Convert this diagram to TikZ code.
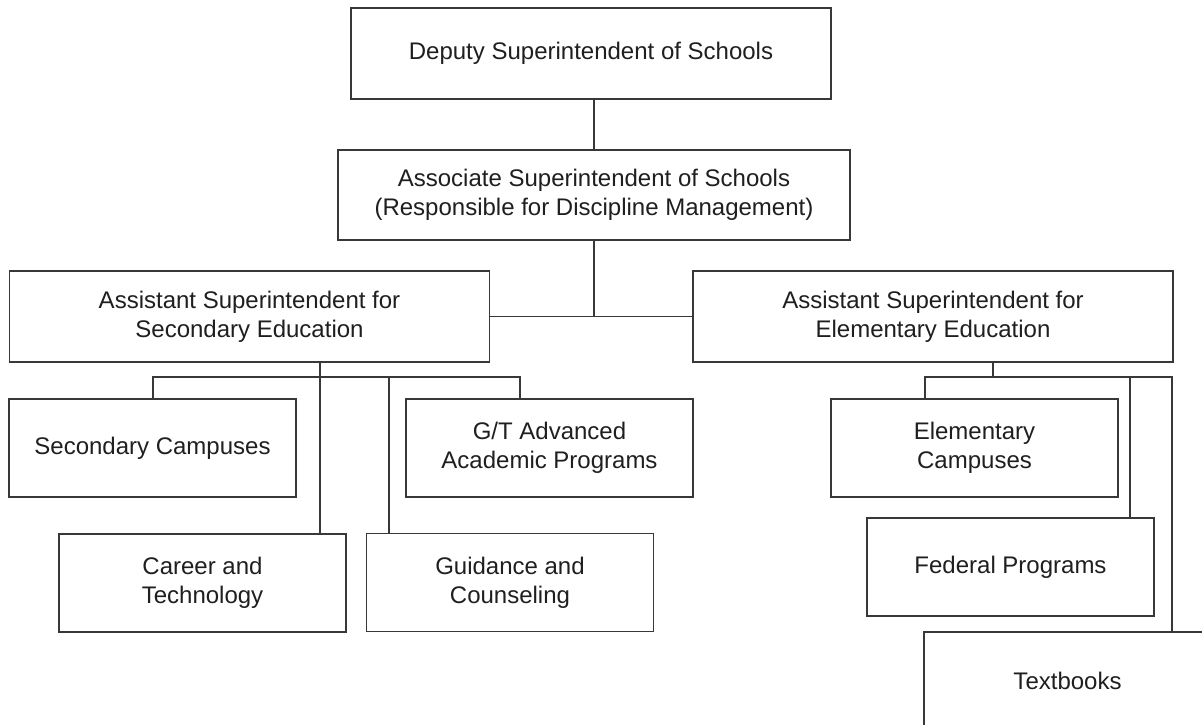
\documentclass[tikz,border=0pt]{standalone}
\usepackage{fontspec}
\setmainfont{Liberation Sans}
\begin{document}
\begin{tikzpicture}[x=1pt,y=-1pt,
  orgbox/.style={draw=black!78, line width=1.2pt, fill=white, rectangle,
    inner sep=0pt, align=center, text=black!88,
    font=\fontsize{24}{29}\selectfont},
  wide/.style={minimum width=480pt, minimum height=91pt},
  unit/.style={minimum width=287pt, minimum height=98pt},
  link/.style={draw=black!78, line width=1.2pt}]
\useasboundingbox (0,0) rectangle (1202,725);
\clip (0,0) rectangle (1202,725);

% top levels
\node[orgbox, wide] (dep) at (591,53.5) {Deputy Superintendent of Schools};
\node[orgbox, minimum width=512pt, minimum height=90pt] (assoc) at (594,195)
  {Associate Superintendent of Schools\\(Responsible for Discipline Management)};
\node[orgbox, wide] (sec) at (249.5,316.5)
  {Assistant Superintendent for\\Secondary Education};
\node[orgbox, wide] (elem) at (933,316.5)
  {Assistant Superintendent for\\Elementary Education};

% secondary units
\node[orgbox, unit] (scamp) at (152.5,448) {Secondary Campuses};
\node[orgbox, unit] (gt) at (549.5,448) {G/T Advanced\\Academic Programs};
\node[orgbox, unit] (career) at (202.5,583) {Career and\\Technology};
\node[orgbox, unit] (guid) at (510,582.5) {Guidance and\\Counseling};

% elementary units
\node[orgbox, unit] (ecamp) at (974.5,448) {Elementary\\Campuses};
\node[orgbox, unit] (fed) at (1010.5,567) {Federal Programs};
\node[orgbox, unit] (tb) at (1067.5,681) {Textbooks};

% branch positions
\coordinate (sbus) at (0,377);
\coordinate (ebus) at (0,377);
\coordinate (secx) at (320,0);
\coordinate (scx) at (153,0);
\coordinate (gtx) at (520,0);
\coordinate (gux) at (389,0);
\coordinate (elx) at (993,0);
\coordinate (ecx) at (925,0);
\coordinate (fedx) at (1130,0);
\coordinate (tbx) at (1172,0);

% upper connectors
\draw[link] (assoc.north) -- (assoc.north |- dep.south);
\draw[link] (assoc.south) -- (assoc.south |- sec.east);
\draw[link] (sec.east) -- (elem.west);

% secondary connectors
\draw[link] (secx |- sec.south) -- (secx |- career.north);
\draw[link] (scx |- scamp.north) -- (scx |- sbus) -- (gtx |- sbus) -- (gtx |- gt.north);
\draw[link] (gux |- sbus) -- (gux |- guid.north);

% elementary connectors
\draw[link] (elx |- elem.south) -- (elx |- ebus);
\draw[link] (ecx |- ecamp.north) -- (ecx |- ebus) -- (tbx |- ebus) -- (tbx |- tb.north);
\draw[link] (fedx |- ebus) -- (fedx |- fed.north);
\end{tikzpicture}
\end{document}
